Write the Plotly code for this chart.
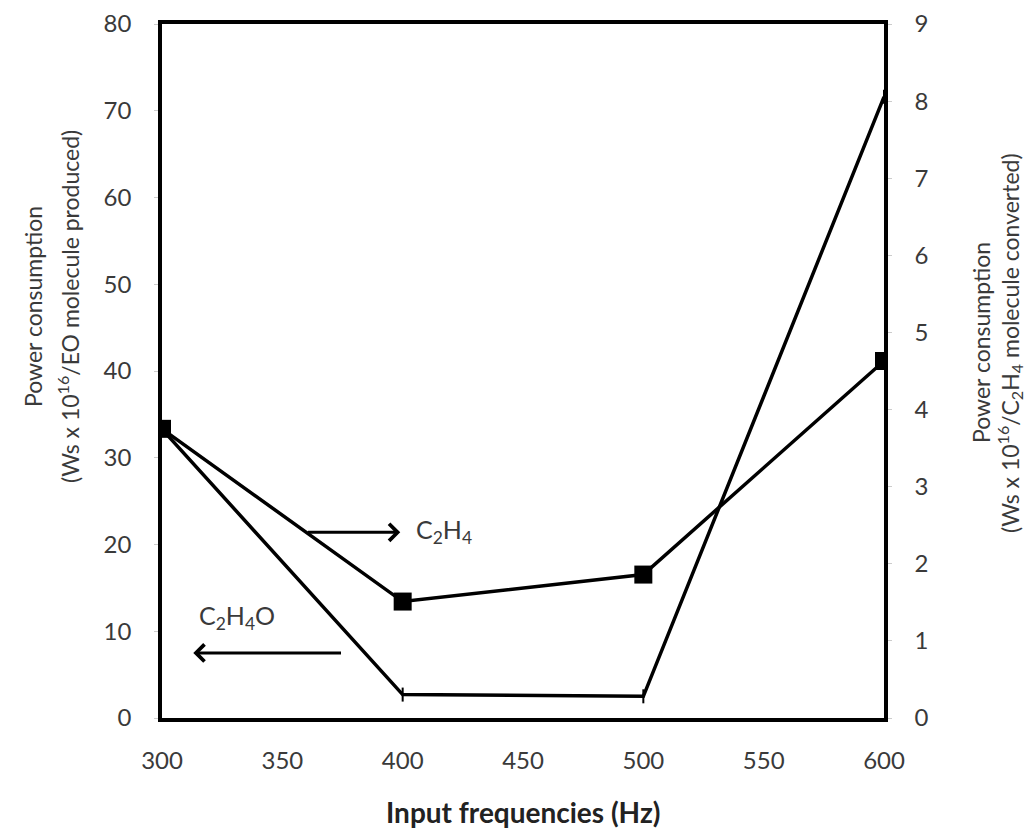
import plotly.graph_objects as go

freq = [300, 400, 500, 600]
eo_power = [33.3, 2.7, 2.5, 71.6]      # left axis, C2H4O
c2h4_power = [3.75, 1.51, 1.86, 4.63]  # right axis, C2H4

x_ticks = [300, 350, 400, 450, 500, 550, 600]
y1_ticks = [0, 10, 20, 30, 40, 50, 60, 70, 80]
y2_ticks = [0, 1, 2, 3, 4, 5, 6, 7, 8, 9]

FONT = "Lato"
TXT = "#3a3a3a"

fig = go.Figure()
fig.add_trace(go.Scatter(
    x=freq, y=eo_power, mode="lines+markers", name="C2H4O",
    line=dict(color="black", width=3.5),
    marker=dict(symbol="line-ns-open", size=10, color="black", line=dict(width=2, color="black")),
    yaxis="y"))
fig.add_trace(go.Scatter(
    x=freq, y=c2h4_power, mode="lines+markers", name="C2H4",
    line=dict(color="black", width=3.5),
    marker=dict(symbol="square", size=18, color="black"),
    yaxis="y2"))

fig.update_layout(
    width=1025, height=831,
    margin=dict(l=162, r=141, t=24, b=113, autoexpand=False),
    paper_bgcolor="white", plot_bgcolor="white",
    showlegend=False,
    font=dict(family=FONT, size=24, color=TXT),
    xaxis=dict(range=[300, 600], tickvals=x_ticks, showgrid=False, zeroline=False,
               showline=True, linecolor="black", linewidth=3.5, mirror=True,
               ticks="", ticklabelstandoff=18, tickfont=dict(size=24, color=TXT)),
    yaxis=dict(range=[0, 80], tickvals=y1_ticks, showgrid=False, zeroline=False,
               showline=True, linecolor="black", linewidth=3.5,
               ticks="outside", ticklen=4, tickcolor="#cccccc", ticklabelstandoff=18,
               tickfont=dict(size=24, color=TXT)),
    yaxis2=dict(range=[0, 9], tickvals=y2_ticks, overlaying="y", side="right",
                showgrid=False, zeroline=False, showline=True, linecolor="black", linewidth=3.5,
                ticks="outside", ticklen=4, tickcolor="#cccccc", ticklabelstandoff=18,
                tickfont=dict(size=24, color=TXT)),
)

annotations = [
    # C2H4 arrow (pointing right)
    dict(x=399, y=21.4, ax=360, ay=21.4, xref="x", yref="y", axref="x", ayref="y",
         showarrow=True, arrowhead=4, arrowsize=1.1, arrowwidth=3, arrowcolor="black", text=""),
    dict(x=417, y=21.6, xref="x", yref="y", text="C<sub>2</sub>H<sub>4</sub>",
         showarrow=False, xanchor="center", yanchor="middle", font=dict(size=25, color=TXT)),
    # C2H4O arrow (pointing left)
    dict(x=313, y=7.5, ax=375, ay=7.5, xref="x", yref="y", axref="x", ayref="y",
         showarrow=True, arrowhead=4, arrowsize=1.1, arrowwidth=3, arrowcolor="black", text=""),
    dict(x=331, y=11.6, xref="x", yref="y", text="C<sub>2</sub>H<sub>4</sub>O",
         showarrow=False, xanchor="center", yanchor="middle", font=dict(size=25, color=TXT)),
    # axis titles
    dict(x=0.5, y=(718 - 812) / 694, xref="paper", yref="paper", text="<b>Input frequencies (Hz)</b>",
         showarrow=False, xanchor="center", yanchor="middle", font=dict(size=28, color="#222")),
    dict(x=(33 - 162) / 722, y=(718 - 307) / 694, xref="paper", yref="paper",
         text="Power consumption", textangle=-90, showarrow=False,
         xanchor="center", yanchor="middle", font=dict(size=23, color=TXT)),
    dict(x=(68 - 162) / 722, y=(718 - 307) / 694, xref="paper", yref="paper",
         text="(Ws x 10<sup>16</sup>/EO molecule produced)", textangle=-90, showarrow=False,
         xanchor="center", yanchor="middle", font=dict(size=23, color=TXT)),
    dict(x=(981 - 162) / 722, y=(718 - 343) / 694, xref="paper", yref="paper",
         text="Power consumption", textangle=-90, showarrow=False,
         xanchor="center", yanchor="middle", font=dict(size=23, color=TXT)),
    dict(x=(1010 - 162) / 722, y=(718 - 343) / 694, xref="paper", yref="paper",
         text="(Ws x 10<sup>16</sup>/C<sub>2</sub>H<sub>4</sub> molecule converted)", textangle=-90,
         showarrow=False, xanchor="center", yanchor="middle", font=dict(size=23, color=TXT)),
]
fig.update_layout(annotations=annotations)

fig.write_html("out.html", config={"displayModeBar": False},
               post_script="document.body.style.margin='0';document.body.style.overflow='hidden';")
